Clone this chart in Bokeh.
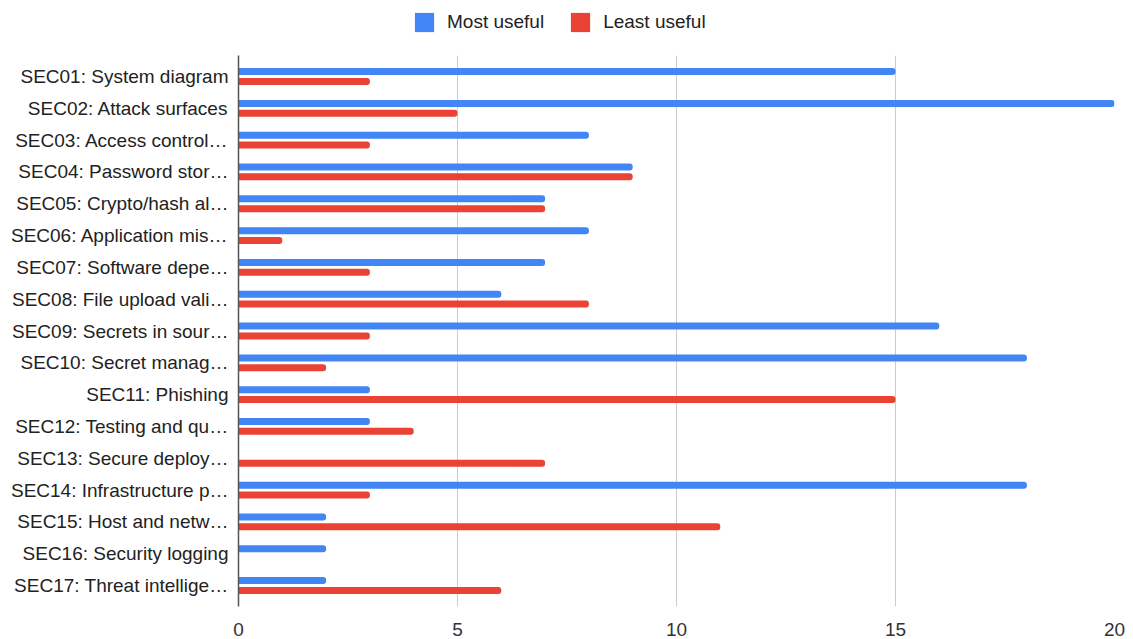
from bokeh.plotting import figure
from bokeh.models import Range1d, FixedTicker, Legend, LegendItem, ColumnDataSource
from bokeh.layouts import column
from bokeh.embed import file_html
from bokeh.resources import INLINE

categories = [
    "SEC01: System diagram",
    "SEC02: Attack surfaces",
    "SEC03: Access control…",
    "SEC04: Password stor…",
    "SEC05: Crypto/hash al…",
    "SEC06: Application mis…",
    "SEC07: Software depe…",
    "SEC08: File upload vali…",
    "SEC09: Secrets in sour…",
    "SEC10: Secret manag…",
    "SEC11: Phishing",
    "SEC12: Testing and qu…",
    "SEC13: Secure deploy…",
    "SEC14: Infrastructure p…",
    "SEC15: Host and netw…",
    "SEC16: Security logging",
    "SEC17: Threat intellige…",
]
most_useful = [15, 20, 8, 9, 7, 8, 7, 6, 16, 18, 3, 3, 0, 18, 2, 2, 2]
least_useful = [3, 5, 3, 9, 7, 1, 3, 8, 3, 2, 15, 4, 7, 3, 11, 0, 6]
series_names = ["Most useful", "Least useful"]
x_ticks = [0, 5, 10, 15, 20]

BLUE = "#4285F4"
RED = "#EA4335"
FONT = "Liberation Sans"

n = len(categories)
centers = [i + 0.5 for i in range(n)]
off = 0.155
bar_h = 0.22

src = ColumnDataSource(dict(
    y_most=[c - off for c in centers],
    y_least=[c + off for c in centers],
    most=most_useful,
    least=least_useful,
))

p = figure(width=1133, height=584, output_backend="svg", toolbar_location=None,
           x_range=Range1d(0, 20), y_range=Range1d(n + 0.16, -0.16),
           min_border_left=238, min_border_right=19, min_border_top=0,
           min_border_bottom=33)
p.outline_line_color = None
p.background_fill_color = "white"
p.border_fill_color = "white"

r1 = p.hbar(y="y_most", left=0, right="most", height=bar_h, source=src,
            fill_color=BLUE, line_color=None, border_radius=(0, 3, 3, 0))
r2 = p.hbar(y="y_least", left=0, right="least", height=bar_h, source=src,
            fill_color=RED, line_color=None, border_radius=(0, 3, 3, 0))

# x axis
p.xaxis.ticker = FixedTicker(ticks=x_ticks)
p.xaxis.axis_line_color = None
p.xaxis.major_tick_line_color = None
p.xaxis.minor_tick_line_color = None
p.xaxis.major_label_text_font = FONT
p.xaxis.major_label_text_font_size = "19px"
p.xaxis.major_label_text_color = "#333333"
p.xaxis.major_label_standoff = 10

# y axis
p.yaxis.ticker = FixedTicker(ticks=centers)
p.yaxis.major_label_overrides = {c: lab for c, lab in zip(centers, categories)}
p.yaxis.axis_line_color = "#555555"
p.yaxis.axis_line_width = 1.5
p.yaxis.major_tick_line_color = None
p.yaxis.minor_tick_line_color = None
p.yaxis.major_label_text_font = FONT
p.yaxis.major_label_text_font_size = "19px"
p.yaxis.major_label_text_color = "#222222"
p.yaxis.major_label_standoff = 4

p.xgrid.ticker = FixedTicker(ticks=x_ticks[1:])
p.xgrid.grid_line_color = "#cccccc"
p.ygrid.grid_line_color = None

# legend strip above the plot (its glyphs sit outside the strip's visible range)
lf = figure(width=1133, height=55, output_backend="svg", toolbar_location=None,
            x_range=Range1d(0, 1), y_range=Range1d(0, 1),
            x_axis_location=None, y_axis_location=None, min_border=0)
lf.outline_line_color = None
lf.xgrid.visible = False
lf.ygrid.visible = False
dummy = ColumnDataSource(dict(y=[-10], right=[1]))
l1 = lf.hbar(y="y", left=0, right="right", height=0.5, source=dummy,
             fill_color=BLUE, line_color=None, border_radius=2)
l2 = lf.hbar(y="y", left=0, right="right", height=0.5, source=dummy,
             fill_color=RED, line_color=None, border_radius=2)
legend = Legend(items=[LegendItem(label=series_names[0], renderers=[l1]),
                       LegendItem(label=series_names[1], renderers=[l2])],
                orientation="horizontal", location=(174, 21),
                glyph_width=24, glyph_height=24, label_standoff=11, spacing=24,
                padding=0, margin=0, border_line_color=None,
                background_fill_alpha=0,
                label_text_font=FONT, label_text_font_size="19px",
                label_text_color="#222222", label_height=24)
lf.add_layout(legend, "center")

layout = column(lf, p, spacing=0)
open("out.html", "w").write(file_html(layout, INLINE))
